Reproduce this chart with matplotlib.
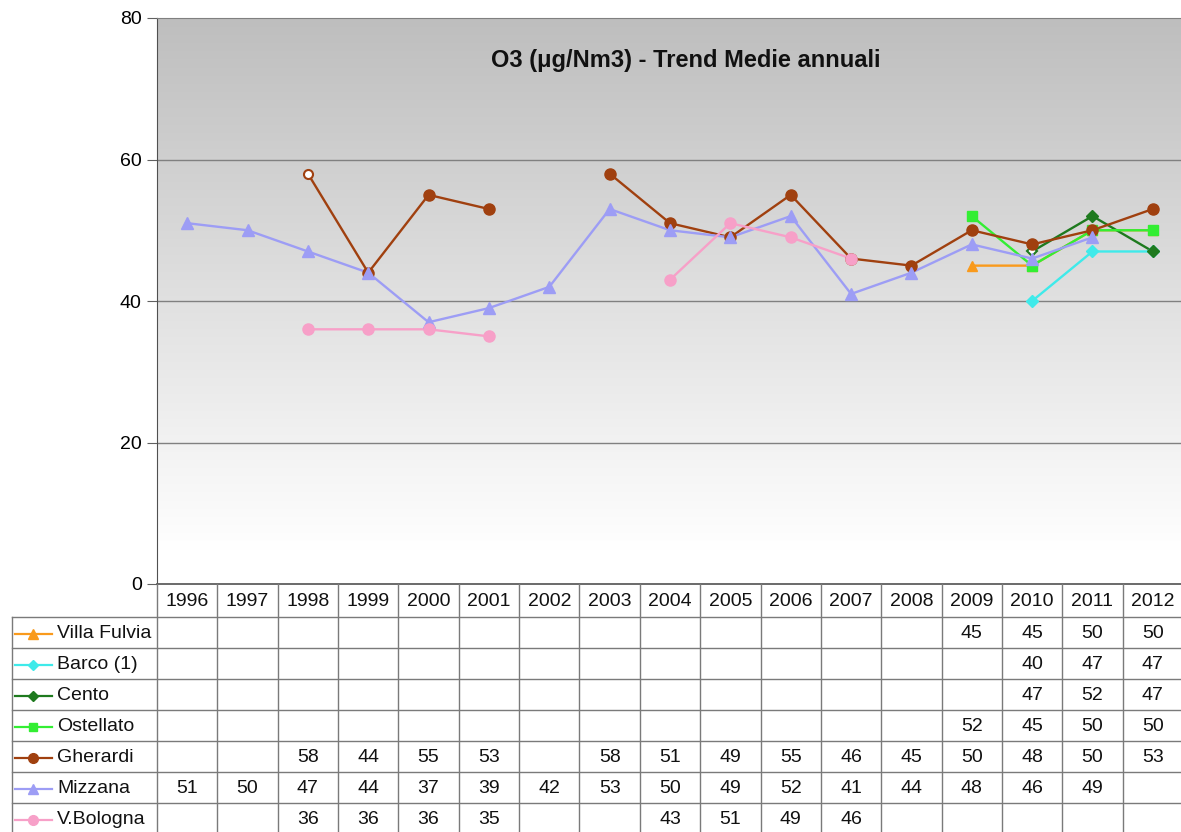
import numpy as np
import matplotlib
matplotlib.use("Agg")
import matplotlib.pyplot as plt
from matplotlib.colors import LinearSegmentedColormap

nan = np.nan
years = list(range(1996, 2013))

series_names = ["Villa Fulvia", "Barco (1)", "Cento", "Ostellato",
                "Gherardi", "Mizzana", "V.Bologna"]
villa_fulvia = [nan] * 13 + [45, 45, 50, 50]
barco = [nan] * 14 + [40, 47, 47]
cento = [nan] * 14 + [47, 52, 47]
ostellato = [nan] * 13 + [52, 45, 50, 50]
gherardi = [nan, nan, 58, 44, 55, 53, nan, 58, 51, 49, 55, 46, 45, 50, 48, 50, 53]
mizzana = [51, 50, 47, 44, 37, 39, 42, 53, 50, 49, 52, 41, 44, 48, 46, 49, nan]
v_bologna = [nan, nan, 36, 36, 36, 35, nan, nan, 43, 51, 49, 46, nan, nan, nan, nan, nan]
series_values = [villa_fulvia, barco, cento, ostellato, gherardi, mizzana, v_bologna]

# points drawn with an open marker in the original
hollow_points = {"Gherardi": [1998], "Cento": [2010]}

colors = ["#F99A1C", "#3FEAEA", "#1E7A1E", "#33EE33", "#A0400F", "#9D9DF5", "#F7A0C8"]
markers = ["^", "D", "D", "s", "o", "^", "o"]
msizes = [7.5, 6.5, 6.5, 7, 8, 8, 8]

plt.rcParams["font.family"] = ["Liberation Sans", "DejaVu Sans"]

W, H = 1181, 832
fig = plt.figure(figsize=(W / 100, H / 100), dpi=100)

left_px, right_px, top_px, bottom_px = 157, 1183, 18, 584
col_w = (right_px - left_px) / len(years)

ax = fig.add_axes([left_px / W, (H - bottom_px) / H,
                   (right_px - left_px) / W, (bottom_px - top_px) / H])
ax.set_xlim(-0.5, len(years) - 0.5)
ax.set_ylim(0, 80)

# grey-to-white gradient background
cmap = LinearSegmentedColormap.from_list("bg", [(0, "#FFFFFF"), (0.06, "#FFFFFF"), (1, "#BEBEBE")], N=512)
grad = np.linspace(0, 1, 512).reshape(-1, 1)
ax.imshow(grad, cmap=cmap, extent=(-0.5, len(years) - 0.5, 0, 80),
          origin="lower", aspect="auto", zorder=0, interpolation="bilinear")

for g in [20, 40, 60]:
    ax.axhline(g, color="#808080", lw=1, zorder=1)

x = np.arange(len(years))
for name, vals, c, m, ms in zip(series_names, series_values, colors, markers, msizes):
    v = np.array(vals, dtype=float)
    hol = [years.index(yy) for yy in hollow_points.get(name, [])]
    ax.plot(x, v, color=c, lw=1.7, zorder=3)
    solid = v.copy()
    solid[hol] = nan
    ax.plot(x, solid, ls="none", marker=m, ms=ms, color=c, mec=c, zorder=4)
    for i in hol:
        ax.plot(x[i], v[i], ls="none", marker=m, ms=ms - 1.5, mfc="white",
                mec=c, mew=1.5, zorder=4)

ax.text(0.515, 0.925, "O3 (\u03bcg/Nm3) - Trend Medie annuali", transform=ax.transAxes,
        ha="center", va="center", fontsize=17, fontweight="bold", color="#111111")

ax.set_yticks([0, 20, 40, 60, 80])
ax.set_yticklabels(["0", "20", "40", "60", "80"], fontsize=14)
ax.tick_params(axis="y", direction="out", length=7, color="#606060", pad=4)
ax.set_xticks([])
for s in ["right", "bottom"]:
    ax.spines[s].set_visible(False)
ax.spines["left"].set_color("#505050")
ax.spines["top"].set_color("#808080")

# data table below the plot, drawn in pixel-like coordinates
tab = fig.add_axes([left_px / W, 0, (right_px - left_px) / W, (H - bottom_px) / H])
tab.set_xlim(-0.5, len(years) - 0.5)
tab.set_ylim(H, bottom_px)
tab.axis("off")


def px2x(px):
    return -0.5 + (px - left_px) / col_w


header_bottom = 617
row_h = 31
row_tops = [header_bottom + i * row_h for i in range(len(series_names))]
lc = "#7A7A7A"

tab.plot([-0.5, len(years) - 0.5], [bottom_px, bottom_px], color="#505050", lw=1.2, clip_on=False)
for i in range(len(years) + 1):
    tab.plot([i - 0.5, i - 0.5], [bottom_px, H], color=lc, lw=1, clip_on=False)
leg_left = px2x(12)
tab.plot([leg_left, leg_left], [header_bottom, H], color=lc, lw=1, clip_on=False)
for yt in row_tops:
    tab.plot([leg_left, len(years) - 0.5], [yt, yt], color=lc, lw=1, clip_on=False)

for i, yr in enumerate(years):
    tab.text(i, (bottom_px + header_bottom) / 2 + 1, str(yr), ha="center", va="center",
             fontsize=14, color="#111111")

for r, (name, vals, c, m, ms) in enumerate(zip(series_names, series_values, colors, markers, msizes)):
    yc = row_tops[r] + row_h / 2 + 1
    tab.plot([px2x(15), px2x(52)], [yc, yc], color=c, lw=1.6, clip_on=False)
    tab.plot([px2x(33)], [yc], marker=m, ms=ms - 1, color=c, clip_on=False)
    tab.text(px2x(57), yc, name, ha="left", va="center", fontsize=14, color="#111111")
    for i, v in enumerate(vals):
        if not np.isnan(v):
            tab.text(i, yc, str(int(v)), ha="center", va="center", fontsize=14,
                     color="#111111")

fig.savefig("out.png", dpi=100)
